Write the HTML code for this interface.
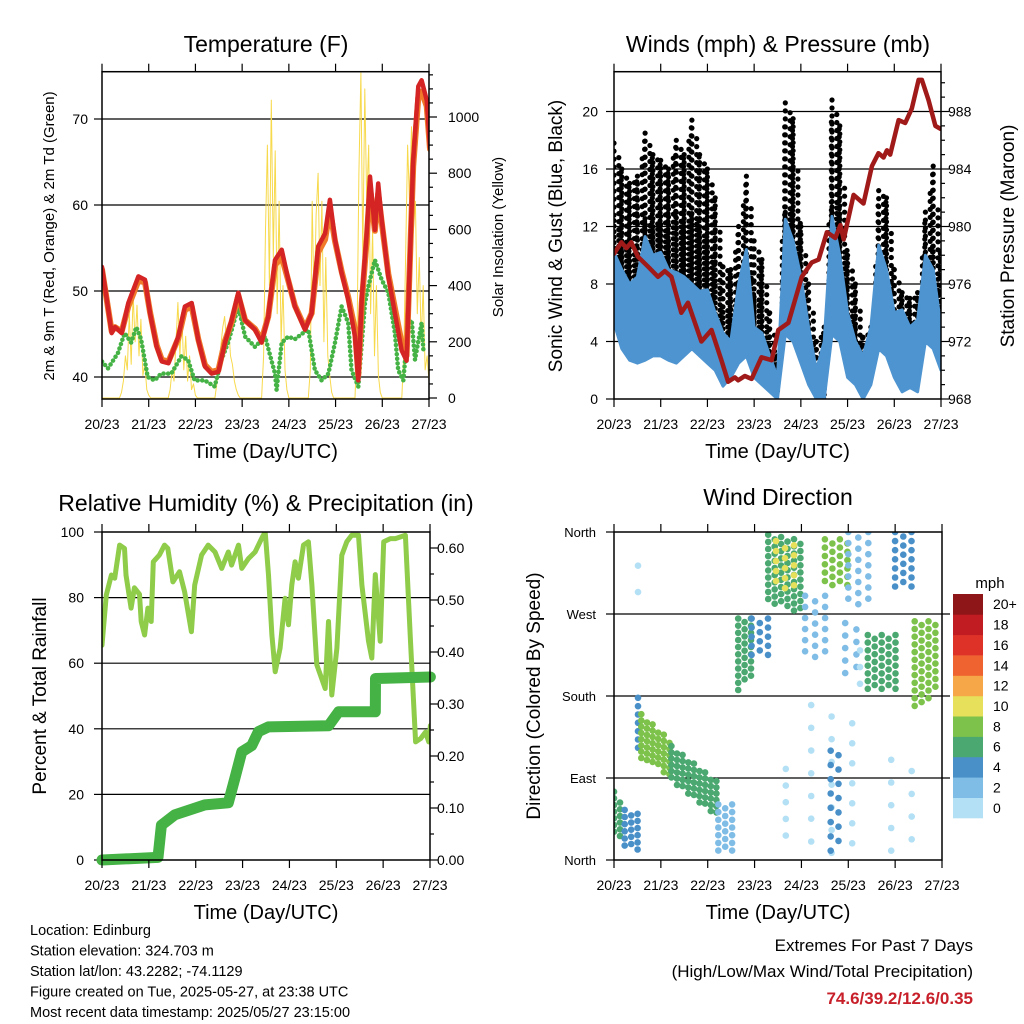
<!DOCTYPE html>
<html><head><meta charset="utf-8">
<style>
html,body{margin:0;padding:0;background:#fff;}
svg{display:block;font-family:"Liberation Sans",Arial,sans-serif;}
</style></head>
<body>
<svg id="c" width="1024" height="1024" viewBox="0 0 1024 1024" xmlns="http://www.w3.org/2000/svg"></svg>
<script>
// ---------- Data ----------
const dayLabels = ["20/23","21/23","22/23","23/23","24/23","25/23","26/23","27/23"];
const tempT = [0,5,6.7,10.1,13.5,18.7,22.1,24.7,28.1,30.7,34.1,39.2,42.6,46.1,49.5,52.9,56.3,59.8,63.2,66.6,70,73.5,78.6,82,85.4,88.9,92.3,95.7,99.1,104.3,107.7,111.1,114.6,117.1,119.7,123.1,126.5,130,131.7,133.4,136,137.7,140.2,141.9,143.7,147.1,150.5,153.9,156.5,159.9,162.5,164.2,166.8,168.5];
const temp2m = [52.8,45.1,45.8,45.1,48.6,51.7,51.3,47.4,43.5,41.8,41.6,44.7,48.2,48.6,44.3,41.2,40.4,40.6,44,46.6,49.8,46.6,45.5,44,47,53.6,54.8,51.3,48.2,45.5,47.4,55.2,56.7,60.6,56,52.1,49,44.7,39.6,49,56.7,63.3,57.1,62.5,58.3,51.7,47.4,43.1,41.9,65.2,73.8,74.5,72.2,66.7];
const temp9m = [52.5,45.3,45.8,45.3,48.2,51.2,51,47.5,43.7,42,41.8,44.5,47.8,48.2,44.4,41.4,40.6,40.8,44.2,46.4,49.5,46.6,45.6,44.3,47,53,54,51.2,48.3,45.7,47.4,54.5,56,59.5,55.8,52.3,49.3,45.5,40.2,48.5,56,62,57,61.3,58,52,48,44,42.5,64.5,72.5,73.2,71.5,66.5];
const dewT = [0,3.1,8.2,11.6,15,17.6,20.1,23.5,27,30.4,35.6,40.8,44.2,47.6,52.8,57.9,61.4,64.8,70,73.5,78.6,83.8,88.9,89.7,92.3,95.7,99.1,102.6,106,109.4,112.8,116.3,119.7,123.1,126.5,128.2,131.7,135.1,136.8,140.2,143.7,147.1,150.5,152.2,154.8,157.4,159.1,160.8,164.2,165.1];
const dewPt = [41.8,41,42.8,45.1,44,45.8,44.4,40,39.6,40.4,40.4,42.4,42,39.6,39.6,38.9,42,44,48.2,44.7,43.5,44.7,40.4,38.5,44,44.7,44.4,45,45.5,40.8,39.6,40.4,44,48.2,46.3,40.8,38.9,48.6,50.5,53.6,51.3,49.8,45.1,40.8,39.6,46.3,46.6,42,46.3,43.1];
const solarT = [0,9,10,11,12,13,14,15,16,17,18,19,20,21,22,23,24,25,26,34,35,36,37,38,39,40,41,42,43,44,45,46,47,48,49,50,58,59,60,61,62,63,64,65,66,67,68,69,70,71,82,83,84,85,86,87,88,89,90,91,92,93,94,95,96,106,107,108,109,110,111,112,113,114,115,116,117,118,119,120,130,131,132,133,134,135,136,137,138,139,140,141,142,143,144,154,155,156,157,158,159,160,161,162,163,164,165,166,167,168];
const solarV = [0,0,20,60,150,100,300,120,370,200,330,150,280,80,120,30,10,0,0,0,30,100,60,200,340,150,300,100,220,60,150,30,50,10,0,0,0,50,120,180,250,290,200,260,150,120,60,30,10,0,0,150,600,900,400,1060,500,880,300,700,200,400,100,30,0,0,100,700,300,650,800,400,700,200,500,150,80,20,0,0,0,200,800,1157,500,1100,700,900,300,600,150,400,80,20,0,0,150,500,900,700,965,600,700,300,500,200,400,100,150,60];
const windT = [0,4,8,12,16,20,24,28,32,36,40,44,48,52,56,60,64,68,72,76,80,84,88,92,96,100,104,108,112,116,120,124,128,132,136,140,144,148,152,156,160,164,168];
const gustHi = [17.8,16,15,15.5,18.5,17,16.6,16,18,17,19.4,17,16,14,9.2,9,12,15.5,11,9.7,6,3,20.6,19.5,12,8,4,5,20.8,19,10,8,4.3,5,14.5,14,9,7.4,7,7.4,13,16.2,10];
const gustLo = [8.5,6,5.5,5.5,7.4,7,8.5,7,8.6,7,7.4,7,6.5,5,3.9,3.5,5,6,4,3,1.5,0.5,7,7,6,3,0.5,0,8,7,4,2.5,1,2,5.5,5,3,2,2,2.5,6,6,3];
const sonicHi = [10.2,9,8,8.5,11.3,10,10.2,9,8.8,8.5,8,7.5,7.6,6,4.6,4,8,10.4,5,4.6,3,1.5,12.5,11,8.5,5,2,4,12.7,10,6,4,3,5,10.7,9,6,6.2,5,5.5,10,9,5];
const sonicLo = [5.3,3.5,2.7,2.5,2.7,3,3,2.7,2.5,3,3.5,3,2.5,2,0.9,1.5,2.5,3,1.5,1,0.5,0,4.5,4,2.5,1,0,0,4.5,4,1.5,1,0,1,3.5,3,1.5,0.5,0.8,0.5,4,3.5,2];
const presT = [0,3.8,6.4,8.9,12.3,17.5,22.6,26.1,29.5,34.6,38,44.9,50.1,55.2,58.6,62.1,63.8,67.2,70.7,75.8,81,84.4,89.6,96.5,101.6,105.1,109.4,113.7,116.3,118,123.1,128.2,132.5,135.9,138.5,140.2,141.9,146.2,149.6,153,156.5,158.2,161.6,165.1,167.7];
const presV = [978.1,978.9,978.5,978.9,977.9,977.2,976.5,976.9,976.5,974,974.7,972,972.8,970.7,969.2,969.5,969.3,969.6,969.4,970.9,970.7,972.8,973.3,976.5,977.5,977.7,979.6,979.2,980.1,979.1,982.2,981.6,984.2,985.1,984.8,985.3,985,987.4,987.2,988.2,990.2,990.2,988.8,987,986.8];
const rhT = [0,2.2,4.8,6.5,9,11.5,12.3,14.9,16.6,19.2,20.1,21.8,23.5,25.2,26.3,29.4,32,33.7,36.3,39.7,42.3,45.8,47.5,51,54.4,57.9,61.3,64.7,66.4,69.9,71.6,75,78.4,81.9,83.6,85.3,87,88.7,91.2,93.8,95.5,97.2,98.9,100.6,103.2,105.7,107.5,110,114.3,116,117.7,120.3,122.8,125.4,127.9,131.4,133.1,136.5,138.2,140,142.5,144.3,147.7,150.3,155.4,158,160.6,163.2,165.7,167.4,168.2];
const rhV = [65.5,80.8,86.9,85.9,96,95,86.9,76.8,83,81,72.7,68.6,76.8,72.7,90.9,93,96,95,84.8,87.9,81.8,69.6,83.8,93,96,93.9,88.9,93.9,89.9,96,88.9,91.9,93.9,98.2,100,86.9,68.6,57.4,64.6,79.8,71.7,83.8,90.9,85.9,96,97,83.8,59.5,52.3,72.7,50.3,64.6,92.9,97,99,99,83.8,66.7,61.6,87,66.7,97,98,98,99,66.7,36,37,39,36,41];
const rainT = [0,28.7,30.4,37.3,52.7,64.7,68.1,71.6,76.7,80.1,85.3,116,121.2,140,140.1,168.2];
const rainV = [0,0.005,0.067,0.087,0.106,0.11,0.158,0.208,0.22,0.247,0.256,0.258,0.285,0.285,0.349,0.352];
// Wind direction clusters: time span, direction range at start and end, speed
const wdT0  = [0,5.5,12.3,14,29.4,53.4,63.6,70.5,79,83,97.9,108,115,120,118.4,130,144,154,101,122,142,12.3,12.3,111,88,126];
const wdT1  = [5.5,13.2,15.7,29.4,53.4,63.6,70.5,80.8,97.9,93,111.5,120,118.4,132,128.7,145.8,156,168,111.5,128.7,159,12.3,12.3,112,89,127];
const wdLo0 = [30,15,120,112,85,8,185,221,280,300,220,300,10,280,200,185,300,165,5,10,10,323,294,5,20,180];
const wdHi0 = [75,55,178,160,125,61,265,265,357,350,290,352,115,360,260,247,360,262,170,150,110,323,294,120,100,230];
const wdLo1 = [20,10,115,90,46,8,200,221,270,290,220,300,10,280,200,185,300,190,5,10,10,323,294,5,20,180];
const wdHi1 = [60,50,160,130,85,61,265,265,350,345,290,352,115,360,260,247,360,262,170,150,110,323,294,120,100,230];
const wdSpd = [6,4,5,8,6,3,7,4,7,10,3,9,4,3,2,7,4,8,1,1,1,0,0,5,0,1];
const wdDensity = [0.75,0.7,0.6,0.8,0.8,0.65,0.7,0.55,0.7,0.5,0.45,0.6,0.35,0.45,0.4,0.65,0.55,0.65,0.22,0.25,0.22,1,1,0.35,0.3,0.3];
const speedLabels = ["0","2","4","6","8","10","12","14","16","18","20+"];
const speedColors = ["#b3e0f5","#7fbde6","#4a90c8","#4aa870","#7dc24a","#e6e05a","#f6a848","#ee6330","#de3228","#c01c22","#8e1518"];

// ---------- Helpers ----------
const svg = document.getElementById('c');
const NS = "http://www.w3.org/2000/svg";
function mk(tag, attrs, parent){ const e=document.createElementNS(NS,tag); for(const k in attrs) e.setAttribute(k,attrs[k]); (parent||svg).appendChild(e); return e; }
function txt(s, x, y, size, anchor, parent, extra){ const e=mk('text',Object.assign({x:x,y:y,'font-size':size,'text-anchor':anchor||'middle',fill:'#000'},extra||{}),parent); e.textContent=s; return e; }

const P1={x0:102,x1:429,y0:71.7,y1:399};
const P2={x0:614,x1:941,y0:71.7,y1:399};
const P3={x0:102,x1:430,y0:532,y1:860};
const P4={x0:614,x1:942,y0:532,y1:860};
function xs(P){ return t => P.x0 + t/168*(P.x1-P.x0); }
const x1=xs(P1), x2=xs(P2), x3=xs(P3), x4=xs(P4);
const yTemp = v => 377 - (v-40)*8.6;
const ySolar = v => 398 - v*0.281;
const yMph = v => 399 - v*14.375;
const yMb = v => 399 - (v-968)*14.375;
const yRh = v => 860 - v*3.28;
const yRain = v => 860 - v*520;
const yDir = v => 860 - v*328/360;

function clip(P,id){ const cp=mk('clipPath',{id:id}); mk('rect',{x:P.x0,y:P.y0,width:P.x1-P.x0,height:P.y1-P.y0},cp); }
clip(P1,'c1'); clip(P2,'c2'); clip(P3,'c3'); clip(P4,'c4');

function xAxis(P, xf, g){
  for(let d=0; d<8; d++){
    const x=xf(d*24);
    mk('line',{x1:x,y1:P.y0-8,x2:x,y2:P.y0,stroke:'#000','stroke-width':1.2},g);
    mk('line',{x1:x,y1:P.y1,x2:x,y2:P.y1+8,stroke:'#000','stroke-width':1.2},g);
    const l=txt(dayLabels[d], x, P.y1+30, 14, 'middle', g);
    
    
  }
  const t=txt("Time (Day/UTC)", (P.x0+P.x1)/2, P.y1+59, 20, 'middle', g);
  
  
}
function frame(P,g){ mk('rect',{x:P.x0,y:P.y0,width:P.x1-P.x0,height:P.y1-P.y0,fill:'none',stroke:'#000','stroke-width':1.5},g); }
function hgrid(P,y,g){ mk('line',{x1:P.x0,y1:y,x2:P.x1,y2:y,stroke:'#000','stroke-width':1.2},g); }
function line(pts, attrs, g){ return mk('polyline',Object.assign({points:pts.map(p=>p[0].toFixed(1)+','+p[1].toFixed(1)).join(' '),fill:'none','stroke-linejoin':'round','stroke-linecap':'round'},attrs),g); }
function ytick(x,y,len,g){ mk('line',{x1:x,y1:y,x2:x+len,y2:y,stroke:'#000','stroke-width':1.2},g); }

// ---------- Panel 1: Temperature ----------
const g1=mk('g',{});


const t1=txt("Temperature (F)",266,52,23,'middle',g1);


[40,50,60,70].forEach(v=>{ hgrid(P1,yTemp(v),g1); const l=txt(String(v),88,yTemp(v)+5,14,'end',g1);
  
   ytick(P1.x0-8,yTemp(v),8,g1); });
for(let v=0; v<=1150; v+=50){ const y=ySolar(v); if(y<P1.y0) continue; ytick(P1.x1,y,v%200===0?8:4,g1);
  if(v%200===0){ const l=txt(String(v),448,y+5,14,'start',g1);
  
   } }
const gc1=mk('g',{'clip-path':'url(#c1)'},g1);
const sol=line(solarT.map((t,i)=>[x1(t),ySolar(solarV[i])]),{stroke:'#f7d94c','stroke-width':1},gc1);


const dew=line(dewT.map((t,i)=>[x1(t),yTemp(dewPt[i])]),{stroke:'#44b244','stroke-width':4.5,'stroke-dasharray':'0.1 4.5'},gc1);


const t9=line(tempT.map((t,i)=>[x1(t),yTemp(temp9m[i])]),{stroke:'#f07a2a','stroke-width':6},gc1);


const t2=line(tempT.map((t,i)=>[x1(t),yTemp(temp2m[i])]),{stroke:'#d42424','stroke-width':4.5},gc1);


frame(P1,g1); xAxis(P1,x1,g1);
const yl1=txt("2m & 9m T (Red, Orange) & 2m Td (Green)",0,0,15,'middle',g1,{transform:'translate(54,236) rotate(-90)'});


const yr1=txt("Solar Insolation (Yellow)",0,0,15,'middle',g1,{transform:'translate(503,237) rotate(-90)'});



// ---------- Panel 2: Winds & Pressure ----------
const g2=mk('g',{});


const t2t=txt("Winds (mph) & Pressure (mb)",778,52,23,'middle',g2);


[4,8,12,16,20].forEach(v=>hgrid(P2,yMph(v),g2));
[0,4,8,12,16,20].forEach(v=>{ const l=txt(String(v),598,yMph(v)+5,14,'end',g2);
  
   ytick(P2.x0-8,yMph(v),8,g2); });
for(let p=968;p<=991;p++){ const y=yMb(p); if(y<P2.y0) continue; ytick(P2.x1,y,p%4===0?8:4,g2);
  if(p%4===0){ const l=txt(String(p),948,y+5,14,'start',g2);
  
   } }
const gc2=mk('g',{'clip-path':'url(#c2)'},g2);
const gustG=mk('g',{fill:'#000'},gc2);


for(let i=0;i<windT.length-1;i++){
  const xa=x2(windT[i]), xb=x2(windT[i+1]);
  let k=0;
  for(let x=xa; x<xb; x+=3.6, k++){
    const f=(x-xa)/(xb-xa);
    const hi=gustHi[i]+(gustHi[i+1]-gustHi[i])*f, lo=gustLo[i]+(gustLo[i+1]-gustLo[i])*f;
    const yh=yMph(hi), yl=yMph(lo);
    for(let y=yh+(k%3)*2.5; y<=yl; y+=(y-yh<(yl-yh)*0.5?8:5.5)) mk('circle',{cx:(x+(k%2)*1.2).toFixed(1),cy:y.toFixed(1),r:2.6},gustG);
  }
}
const bandTop=windT.map((t,i)=>[x2(t),yMph(sonicHi[i])]);
const bandBot=windT.map((t,i)=>[x2(t),yMph(sonicLo[i])]).reverse();
const sonic=mk('polygon',{points:bandTop.concat(bandBot).map(p=>p[0].toFixed(1)+','+p[1].toFixed(1)).join(' '),fill:'#4d94d0',stroke:'#4d94d0','stroke-width':3,'stroke-linejoin':'round'},gc2);


const pres=line(presT.map((t,i)=>[x2(t),yMb(presV[i])]),{stroke:'#a01a1a','stroke-width':4.5},gc2);


frame(P2,g2); xAxis(P2,x2,g2);
const yl2=txt("Sonic Wind & Gust (Blue, Black)",0,0,19,'middle',g2,{transform:'translate(562,236) rotate(-90)'});


const yr2=txt("Station Pressure (Maroon)",0,0,19,'middle',g2,{transform:'translate(1014,236) rotate(-90)'});



// ---------- Panel 3: RH & Precip ----------
const g3=mk('g',{});


const t3=txt("Relative Humidity (%) & Precipitation (in)",266,511,23,'middle',g3);


[20,40,60,80].forEach(v=>hgrid(P3,yRh(v),g3));
[0,20,40,60,80,100].forEach(v=>{ const l=txt(String(v),84,yRh(v)+5,14,'end',g3);
  
   ytick(P3.x0-8,yRh(v),8,g3); });
for(let k=0;k<=12;k++){ const v=k*0.05; const y=yRain(v); ytick(P3.x1,y,k%2===0?8:4,g3);
  if(k%2===0){ const l=txt(v.toFixed(2),437,y+5,14,'start',g3);
  
   } }
const gc3=mk('g',{'clip-path':'url(#c3)'},g3);
const rh=line(rhT.map((t,i)=>[x3(t),yRh(rhV[i])]),{stroke:'#8fcc4a','stroke-width':5},gc3);


const rain=line(rainT.map((t,i)=>[x3(t),yRain(rainV[i])]),{stroke:'#44b244','stroke-width':11},g3);


frame(P3,g3); xAxis(P3,x3,g3);
const yl3=txt("Percent & Total Rainfall",0,0,19,'middle',g3,{transform:'translate(46,696) rotate(-90)'});



// ---------- Panel 4: Wind Direction ----------
const g4=mk('g',{});


const t4=txt("Wind Direction",778,505,23,'middle',g4);


const dirNames=["North","East","South","West","North"];
[90,180,270].forEach(v=>mk('line',{x1:P4.x0,y1:yDir(v),x2:P4.x1+8,y2:yDir(v),stroke:'#000','stroke-width':1.2},g4));
dirNames.forEach((n,i)=>{ const v=i*90; const l=txt(n,596,yDir(v)+5,13,'end',g4);
  
   ytick(P4.x0-8,yDir(v),8,g4); });
const gc4=mk('g',{'clip-path':'url(#c4)'},g4);
const dots=mk('g',{},gc4);


for(let i=0;i<wdT0.length;i++){
  const col=speedColors[Math.min(10,Math.floor(wdSpd[i]/2))];
  const xa=x4(wdT0[i]), xb=x4(wdT1[i]);
  const sx=4.5/wdDensity[i], sy=5/wdDensity[i];
  let k=0;
  for(let x=xa; x<=xb+0.1; x+=sx, k++){
    const f = xb>xa ? (x-xa)/(xb-xa) : 0;
    const yh=yDir(wdHi0[i]+(wdHi1[i]-wdHi0[i])*f), yl=yDir(wdLo0[i]+(wdLo1[i]-wdLo0[i])*f);
    for(let y=yh+(k%2)*sy/2; y<=yl+0.1; y+=sy) mk('circle',{cx:x.toFixed(1),cy:y.toFixed(1),r:3.3,fill:col},dots);
  }
}
frame(P4,g4); xAxis(P4,x4,g4);
const yl4=txt("Direction (Colored By Speed)",0,0,19,'middle',g4,{transform:'translate(540,696) rotate(-90)'});


const cb=mk('g',{});


const cbt=txt("mph",990,588,15,'middle',cb);


const bh=224/11;
for(let i=0;i<11;i++){
  const y=594+(10-i)*bh;
  const r=mk('rect',{x:953,y:y.toFixed(1),width:30,height:(bh+0.3).toFixed(1),fill:speedColors[i]},cb);
  
  
  const l=txt(speedLabels[i],993,y+bh/2+5,14,'start',cb);
  
  
}

// ---------- Footer ----------
const foot=mk('g',{});


["Location: Edinburg","Station elevation: 324.703 m","Station lat/lon: 43.2282; -74.1129","Figure created on Tue, 2025-05-27, at 23:38 UTC","Most recent data timestamp: 2025/05/27 23:15:00"].forEach((s,i)=>{
  const l=txt(s,30,935+i*20.5,14.5,'start',foot);
  
  
});
const ex=mk('g',{});


const e1=txt("Extremes For Past 7 Days",973,951,17,'end',ex);


const e2=txt("(High/Low/Max Wind/Total Precipitation)",973,977,17,'end',ex);


const e3=txt("74.6/39.2/12.6/0.35",973,1004,17,'end',ex,{fill:'#c8202a','font-weight':'bold'});


</script>
</body></html>
